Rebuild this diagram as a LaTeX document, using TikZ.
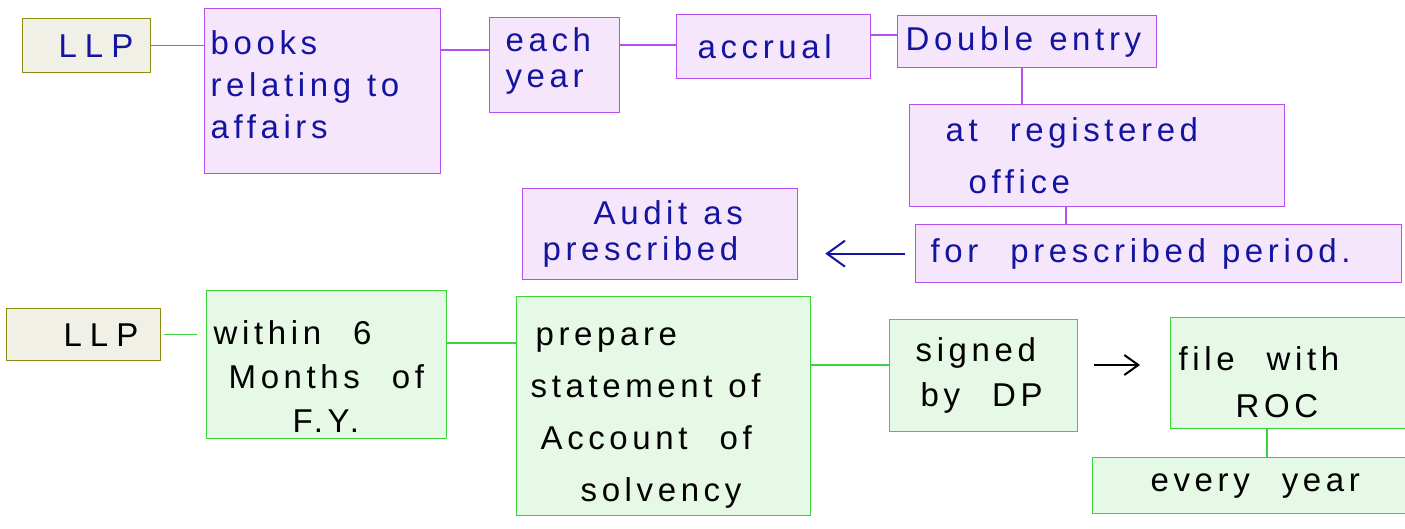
\documentclass[tikz,border=0pt]{standalone}
\usepackage{fontspec}
\setmainfont{Liberation Sans}[LetterSpace=14]
\usetikzlibrary{arrows.meta}
\definecolor{pborder}{RGB}{180,80,240}
\definecolor{pfill}{RGB}{245,230,252}
\definecolor{gborder}{RGB}{60,210,60}
\definecolor{gfill}{RGB}{230,248,230}
\definecolor{oborder}{RGB}{140,140,20}
\definecolor{ofill}{RGB}{240,240,230}
\definecolor{ink}{RGB}{20,20,160}
\newcommand{\wgap}{\hspace{16pt}}
\begin{document}
\begin{tikzpicture}[x=1pt,y=-1pt,
 box/.style={draw, line width=1.3pt, inner ysep=0pt, inner xsep=6pt, anchor=north west, align=left, font=\fontsize{33}{41}\selectfont},
 pbox/.style={box, draw=pborder, fill=pfill, text=ink},
 gbox/.style={box, draw=gborder, fill=gfill, text=black},
 obox/.style={box, draw=oborder, fill=ofill},
 plink/.style={draw=pborder, line width=1.2pt},
 glink/.style={draw=gborder, line width=1.2pt}]
\useasboundingbox (0,0) rectangle (1405,528);
% top row
\node[obox, text=ink, text width=116pt, minimum height=54pt] (llpA) at (22,18) {\hspace{30pt}L\hspace{8pt}L\hspace{8pt}P};
\node[pbox, text width=224pt, minimum height=165pt, font=\fontsize{33}{42}\selectfont] (books) at (204,8) {books\\relating\wgap to\\affairs\vspace{12pt}};
\node[pbox, text width=118pt, minimum height=95pt, font=\fontsize{33}{36}\selectfont] (each) at (489,17) {\hspace{10pt}each\\\hspace{10pt}year\vspace{8pt}};
\node[pbox, text width=182pt, minimum height=64pt] (accrual) at (676,14) {\hspace{15pt}accrual};
\node[pbox, text width=247pt, minimum height=52pt] (dbl) at (897,15) {\hspace{2pt}Double\wgap entry};
\node[pbox, text width=363pt, minimum height=102pt, font=\fontsize{33}{52}\selectfont] (reg) at (909,104) {\hspace{30pt}at\wgap\wgap registered\\\hspace{53pt}office};
\node[pbox, text width=474pt, minimum height=58pt] (period) at (915,224) {\hspace{9pt}for\wgap\wgap prescribed\wgap period.};
\node[pbox, text width=263pt, minimum height=91pt, font=\fontsize{33}{36}\selectfont] (audit) at (522,188) {\hspace{65pt}Audit\wgap as\\\hspace{14pt}prescribed};
% bottom row
\node[obox, text width=142pt, minimum height=52pt] (llpB) at (6,308) {\hspace{51pt}L\hspace{8pt}L\hspace{8pt}P};
\node[gbox, text width=228pt, minimum height=148pt, font=\fontsize{33}{44}\selectfont] (within) at (206,290) {\rule{0pt}{48pt}\hspace{1pt}within\wgap\wgap 6\\\hspace{16pt}Months\wgap\wgap of\\\hspace{80pt}F.Y.};
\node[gbox, text width=282pt, minimum height=219pt, font=\fontsize{33}{52}\selectfont] (prep) at (516,296) {\rule{0pt}{42pt}\hspace{13pt}prepare\\\hspace{8pt}statement\wgap of\\\hspace{18pt}Account\wgap\wgap of\\\hspace{58pt}solvency};
\node[gbox, text width=176pt, minimum height=112pt, font=\fontsize{33}{45}\selectfont] (signed) at (889,319) {\hspace{20pt}signed\\\hspace{25pt}by\wgap\wgap DP};
\node[gbox, text width=226pt, minimum height=111pt, font=\fontsize{33}{47}\selectfont] (file) at (1170,317) {\rule{0pt}{42pt}\hspace{2pt}file\wgap\wgap with\\\hspace{59pt}ROC};
\node[gbox, text width=304pt, minimum height=56pt] (every) at (1092,457) {\hspace{52pt}every\wgap\wgap year};
% purple connectors
\draw[plink] (llpA.east) -- (books.west |- llpA.east);
\draw[plink] (books.east |- 0,50) -- (each.west |- 0,50);
\draw[plink] (each.east |- 0,45) -- (accrual.west |- 0,45);
\draw[plink] (accrual.east |- 0,35) -- (dbl.west |- 0,35);
\draw[plink] (dbl.south -| 1022,0) -- (reg.north -| 1022,0);
\draw[plink] (reg.south -| 1066,0) -- (period.north -| 1066,0);
\draw[ink, line width=2pt, -{Straight Barb[length=18pt,width=26pt]}, shorten <=10pt, shorten >=27pt] (period.west) -- (audit.east |- period.west);
% green connectors
\draw[glink, shorten <=3pt, shorten >=9pt] (llpB.east) -- (within.west |- llpB.east);
\draw[glink] (within.east |- 0,343) -- (prep.west |- 0,343);
\draw[glink] (prep.east |- 0,365) -- (signed.west |- 0,365);
\draw[glink] (file.south -| 1267,0) -- (every.north -| 1267,0);
\draw[black, line width=2pt, -{Straight Barb[length=14pt,width=20pt]}, shorten <=16pt, shorten >=30pt] (signed.east |- 0,365) -- (file.west |- 0,365);
\end{tikzpicture}
\end{document}
